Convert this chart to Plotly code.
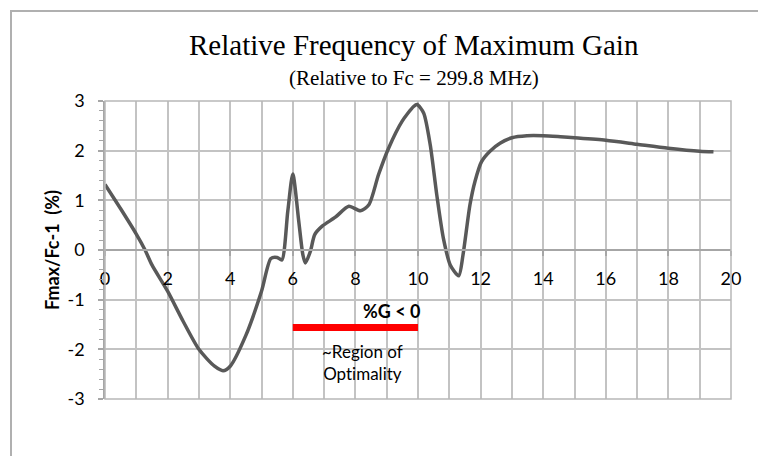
import plotly.graph_objects as go

# Curve data
gain_pct = [0, 0.5, 1, 1.28, 1.5, 2, 2.5, 3, 3.5, 3.77, 4, 4.5, 5, 5.3, 5.5, 5.65,
            5.84, 6.0, 6.19, 6.32, 6.4, 6.56, 6.7, 6.94, 7.36, 7.79, 8.16, 8.43,
            8.74, 9.06, 9.49, 9.86, 9.97, 10.18, 10.39, 10.6, 10.81, 11.03, 11.3,
            11.44, 11.66, 11.82, 12.03, 12.3, 12.62, 13.0, 13.48, 14.0, 14.55,
            15.0, 16, 17, 18, 19, 19.44]
fmax_rel = [1.32, 0.83, 0.32, 0.0, -0.30, -0.83, -1.44, -2.0, -2.34, -2.43, -2.34,
            -1.72, -0.83, -0.17, -0.15, -0.2, 0.78, 1.53, 0.58, -0.09, -0.26, -0.03,
            0.31, 0.48, 0.66, 0.88, 0.79, 0.91, 1.52, 2.05, 2.59, 2.89, 2.93, 2.76,
            2.12, 1.11, 0.24, -0.30, -0.52, -0.09, 0.91, 1.38, 1.78, 1.99, 2.15,
            2.26, 2.3, 2.3, 2.28, 2.26, 2.21, 2.13, 2.05, 1.99, 1.98]

region_x = [6, 10]
region_y = [-1.56, -1.56]

x_ticks = [0, 2, 4, 6, 8, 10, 12, 14, 16, 18, 20]
y_ticks = [-3, -2, -1, 0, 1, 2, 3]

title_text = "Relative Frequency of Maximum Gain"
subtitle_text = "(Relative to Fc = 299.8 MHz)"
ytitle_text = "Fmax/Fc-1  (%)"
region_label = "~Region of<br>Opt\u200cimality"
gain_label = "%G < 0"

W, H = 758, 456
ML, MR, MT, MB = 105, 27, 101, 57
PW, PH = W - ML - MR, H - MT - MB

def px_x(p):
    return (p - ML) / PW

def px_y(p):
    return 1 - (p - MT) / PH

GRID = "#c3c3c3"
TXT = "#000000"

fig = go.Figure()
fig.add_trace(go.Scatter(x=gain_pct, y=fmax_rel, mode="lines",
                         line=dict(color="#595959", width=3.5, shape="spline", smoothing=0.7),
                         hoverinfo="skip", showlegend=False))
fig.add_trace(go.Scatter(x=region_x, y=region_y, mode="lines",
                         line=dict(color="#ff0000", width=7), showlegend=False,
                         hoverinfo="skip"))

fig.update_layout(
    width=W, height=H,
    margin=dict(l=ML, r=MR, t=MT, b=MB),
    paper_bgcolor="white", plot_bgcolor="white",
    showlegend=False,
    xaxis=dict(range=[0, 20], tickvals=x_ticks, ticktext=[str(v) for v in x_ticks],
               showgrid=True, gridcolor=GRID, gridwidth=1.5,
               minor=dict(dtick=1, showgrid=True, gridcolor=GRID, gridwidth=1.5),
               zeroline=False, showline=True, linecolor="#a6a6a6", linewidth=1.5,
               anchor="free", position=0.5,
               ticks="outside", ticklen=5, tickcolor="#a6a6a6", tickwidth=1.5,
               ticklabelstandoff=8,
               tickfont=dict(family="Lato", size=18, color=TXT)),
    yaxis=dict(range=[-3, 3], tickvals=y_ticks, ticktext=[str(v) for v in y_ticks],
               showgrid=True, gridcolor=GRID, gridwidth=1.5,
               zeroline=False, showline=True, linecolor="#a6a6a6", linewidth=1.5,
               ticks="outside", ticklen=5, tickcolor="#a6a6a6", tickwidth=1.5,
               minor=dict(dtick=0.2, ticks="outside", ticklen=4, tickcolor="#a6a6a6",
                          tickwidth=1, showgrid=False),
               ticklabelstandoff=10,
               tickfont=dict(family="Lato", size=18, color=TXT)),
)

# plot-area border
fig.add_shape(type="rect", xref="paper", yref="paper", x0=0, x1=1, y0=0, y1=1,
              line=dict(color="#b8b8b8", width=1.5), layer="above")
# outer chart frame (extends past the picture on the right and bottom)
fig.add_shape(type="rect", xref="paper", yref="paper",
              x0=px_x(11), x1=px_x(775), y0=px_y(470), y1=px_y(11),
              line=dict(color="#b0b0b0", width=2), layer="below")

fig.add_annotation(text=title_text, xref="paper", yref="paper",
                   x=px_x(414), y=px_y(45), showarrow=False,
                   xanchor="center", yanchor="middle",
                   font=dict(family="Liberation Serif", size=29, color=TXT))
fig.add_annotation(text=subtitle_text, xref="paper", yref="paper",
                   x=px_x(414), y=px_y(78), showarrow=False,
                   xanchor="center", yanchor="middle",
                   font=dict(family="Liberation Serif", size=21, color=TXT))
fig.add_annotation(text="<b>" + ytitle_text + "</b>", xref="paper", yref="paper",
                   x=px_x(52), y=0.5, showarrow=False, textangle=-90,
                   xanchor="center", yanchor="middle",
                   font=dict(family="Lato", size=18, color=TXT))
fig.add_annotation(text="<b>" + gain_label + "</b>", x=9.14, y=-1.22, showarrow=False,
                   xanchor="center", yanchor="middle",
                   font=dict(family="Lato", size=18, color=TXT))
fig.add_annotation(text=region_label, x=8.22, y=-2.27, showarrow=False,
                   xanchor="center", yanchor="middle",
                   font=dict(family="Lato", size=17, color=TXT))

fig.write_html("out.html")
